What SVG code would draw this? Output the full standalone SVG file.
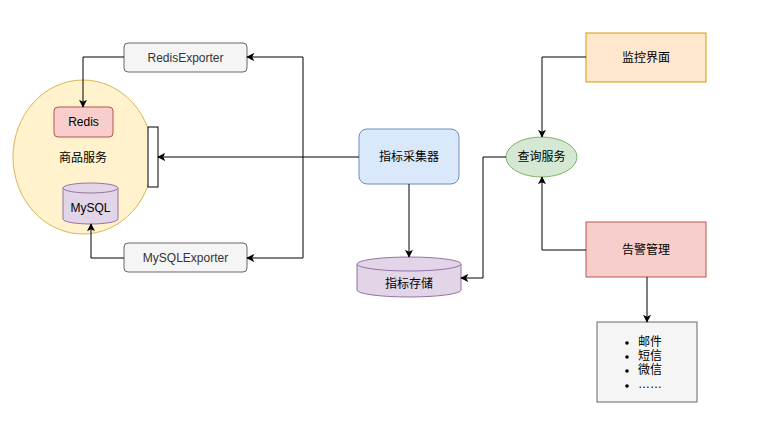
<svg xmlns="http://www.w3.org/2000/svg" width="763" height="423" viewBox="0 0 763 423">
<style>
text{font-family:"Liberation Sans","Noto Sans CJK SC",sans-serif;font-size:12px;fill:#000;text-anchor:middle;dominant-baseline:central}
.grey{fill:#f5f5f5;stroke:#666666}
.gt{fill:#333333}
.edge{fill:none;stroke:#000;stroke-width:1;marker-end:url(#arr)}
</style>
<defs>
<marker id="arr" viewBox="0 0 10 10" refX="9" refY="5" markerWidth="8" markerHeight="8" markerUnits="userSpaceOnUse" orient="auto">
<path d="M0,0 L10,5 L0,10 L2.5,5 Z" fill="#000"/>
</marker>
</defs>
<rect width="763" height="423" fill="#fff"/>
<g id="shop">
<ellipse cx="83" cy="157" rx="70" ry="77" fill="#fff2cc" stroke="#d6b656"/>
<text x="83" y="158">商品服务</text>
</g>
<g id="redis">
<rect x="54" y="107" width="59" height="30" rx="4" fill="#f8cecc" stroke="#b85450"/>
<text x="83.5" y="122">Redis</text>
</g>
<g id="mysql">
<path d="M63,188 v31 a27.5,5 0 0 0 55,0 v-31" fill="#e1d5e7" stroke="#9673a6"/>
<ellipse cx="90.5" cy="188" rx="27.5" ry="5" fill="#e1d5e7" stroke="#9673a6"/>
<text x="90.5" y="208">MySQL</text>
</g>
<g id="bar">
<rect x="148" y="127" width="10" height="60" fill="#fff" stroke="#000"/>
</g>
<g id="redisExporter">
<rect class="grey" x="124" y="43" width="123" height="29" rx="4"/>
<text class="gt" x="185.5" y="57.5">RedisExporter</text>
</g>
<g id="mysqlExporter">
<rect class="grey" x="124" y="243" width="123" height="29" rx="4"/>
<text class="gt" x="185.5" y="257.5">MySQLExporter</text>
</g>
<g id="collector">
<rect x="359" y="129" width="100" height="55" rx="8" fill="#dae8fc" stroke="#6c8ebf"/>
<text x="409" y="157">指标采集器</text>
</g>
<g id="storage">
<path d="M357,264 v26 a52,7 0 0 0 104,0 v-26" fill="#e1d5e7" stroke="#9673a6"/>
<ellipse cx="409" cy="264" rx="52" ry="7" fill="#e1d5e7" stroke="#9673a6"/>
<text x="409" y="284">指标存储</text>
</g>
<g id="query">
<ellipse cx="541.5" cy="157" rx="35.5" ry="20" fill="#d5e8d4" stroke="#82b366"/>
<text x="541.5" y="157">查询服务</text>
</g>
<g id="monitor">
<rect x="586" y="33" width="120" height="49" fill="#ffe6cc" stroke="#d79b00"/>
<text x="646" y="58">监控界面</text>
</g>
<g id="alert">
<rect x="586" y="222" width="120" height="55" fill="#f8cecc" stroke="#b85450"/>
<text x="646" y="250">告警管理</text>
</g>
<g id="channels">
<rect class="grey" x="597" y="322" width="100" height="80"/>
<circle cx="627" cy="343" r="1.8" fill="#000"/>
<circle cx="627" cy="357" r="1.8" fill="#000"/>
<circle cx="627" cy="371" r="1.8" fill="#000"/>
<circle cx="627" cy="386" r="1.8" fill="#000"/>
<text x="638" y="342" style="text-anchor:start">邮件</text>
<text x="638" y="356" style="text-anchor:start">短信</text>
<text x="638" y="370" style="text-anchor:start">微信</text>
<text x="638" y="384" style="text-anchor:start">……</text>
</g>
<g id="connectors">
<path class="edge" d="M124,57 H83 V107"/>
<path class="edge" d="M124,258 H91 V224"/>
<path class="edge" d="M303,157 V57 H247"/>
<path class="edge" d="M303,157 V258 H247"/>
<path class="edge" d="M359,157 H158"/>
<path class="edge" d="M409,184 V257"/>
<path class="edge" d="M506,157 H483 V278 H461"/>
<path class="edge" d="M586,57 H542 V137"/>
<path class="edge" d="M586,250 H542 V177"/>
<path class="edge" d="M647,277 V322"/>
</g>
</svg>
